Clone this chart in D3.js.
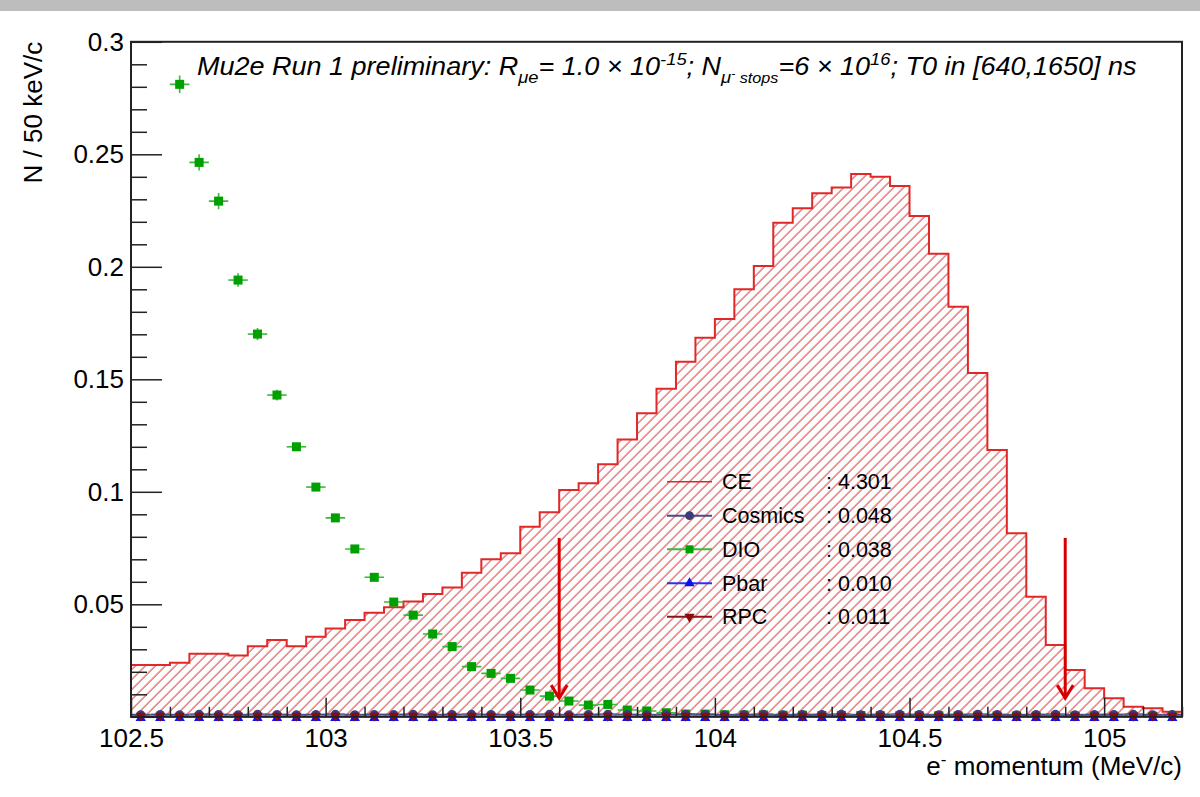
<!DOCTYPE html>
<html><head><meta charset="utf-8">
<script src="https://cdn.jsdelivr.net/npm/d3@7"></script>
<style>
html,body{margin:0;padding:0;background:#fff;}
svg text{font-family:"Liberation Sans",Arial,Helvetica,sans-serif;}
</style></head>
<body><svg id="chart" width="1200" height="797"></svg>
<script>
// ---------------- data ----------------
const xDomain = [102.5, 105.2];
const yDomain = [0, 0.3];
const binWidth = 0.05;
// CE signal histogram, N / 50 keV/c, 54 bins from 102.5 to 105.2 MeV/c
const ceValues = [0.0230,0.0230,0.0240,0.0280,0.0280,0.0273,0.0314,0.0341,0.0314,0.0356,
  0.0393,0.0430,0.0463,0.0487,0.0512,0.0546,0.0575,0.0640,0.0700,0.0727,
  0.0845,0.0909,0.1008,0.1038,0.1122,0.1233,0.1349,0.1458,0.1578,0.1685,
  0.1768,0.1900,0.2004,0.2196,0.2260,0.2327,0.2353,0.2412,0.2400,0.2359,
  0.2226,0.2058,0.1822,0.1528,0.1186,0.0816,0.0534,0.0319,0.0208,0.0127,
  0.0082,0.0045,0.0038,0.0023];
// DIO background (first two bins are above the plotted range)
const dioValues = [null,null,0.2811,0.2464,0.2292,0.1941,0.1701,0.1430,0.1200,0.1021,
  0.0884,0.0746,0.0620,0.0510,0.0452,0.0368,0.0312,0.0223,0.0193,0.0171,
  0.0119,0.0092,0.0070,0.0052,0.0055,0.0030,0.0026,0.0018,0.0012,0.0012,
  0.0009,0.0008,0.0008,0.0007,0.0007,0.0006,0.0006,0.0006,0.0005,0.0005,
  0.0005,0.0005,0.0004,0.0004,0.0004,0.0004,0.0003,0.0003,0.0003,0.0003,
  0.0002,0.0002,0.0002,0.0002];
const dioErrors = [null,null,0.0039,0.0036,0.0036,0.0030,0.0027,0.0024,0.0018,0.0016,
  0.0015,0.0013,0.0012,0.0010,0.0010,0.0009,0.0008,0.0007,0.0006,0.0006,
  0.0005,0.0004,0.0004,0.0003,0.0003,0.0003,0.0002,0.0002,0.0002,0.0002,
  0.0001,0.0001,0.0001,0.0001,0.0001,0.0001,0.0001,0.0001,0.0001,0.0001,
  0.0001,0.0001,0.0001,0.0001,0.0001,0.0001,0.0001,0.0001,0.0001,0.0001,
  0.0001,0.0001,0.0001,0.0001];
const cosmicsValues = [0.0010,0.0011,0.0010,0.0012,0.0011,0.0010,0.0012,0.0011,0.0010,0.0011,
  0.0012,0.0010,0.0011,0.0011,0.0012,0.0010,0.0011,0.0012,0.0011,0.0010,
  0.0011,0.0012,0.0010,0.0011,0.0012,0.0011,0.0010,0.0011,0.0012,0.0011,
  0.0010,0.0011,0.0012,0.0010,0.0011,0.0011,0.0012,0.0010,0.0011,0.0012,
  0.0011,0.0010,0.0011,0.0012,0.0011,0.0010,0.0011,0.0012,0.0010,0.0011,
  0.0011,0.0012,0.0010,0.0011];
const pbarValues = [0.0001,0.0001,0.0001,0.0001,0.0001,0.0001,0.0001,0.0001,0.0001,0.0001,
  0.0001,0.0001,0.0001,0.0001,0.0001,0.0001,0.0001,0.0001,0.0001,0.0001,
  0.0001,0.0001,0.0001,0.0001,0.0001,0.0001,0.0001,0.0001,0.0001,0.0001,
  0.0001,0.0001,0.0001,0.0001,0.0001,0.0001,0.0001,0.0001,0.0001,0.0001,
  0.0001,0.0001,0.0001,0.0001,0.0001,0.0001,0.0001,0.0001,0.0001,0.0001,
  0.0001,0.0001,0.0001,0.0001];
const rpcValues = [0.0002,0.0002,0.0002,0.0002,0.0002,0.0002,0.0002,0.0002,0.0002,0.0002,
  0.0002,0.0002,0.0002,0.0002,0.0002,0.0002,0.0002,0.0002,0.0002,0.0002,
  0.0002,0.0002,0.0002,0.0002,0.0002,0.0002,0.0002,0.0002,0.0002,0.0002,
  0.0002,0.0002,0.0002,0.0002,0.0002,0.0002,0.0002,0.0002,0.0002,0.0002,
  0.0002,0.0002,0.0002,0.0002,0.0002,0.0002,0.0002,0.0002,0.0002,0.0002,
  0.0002,0.0002,0.0002,0.0002];
// signal window arrows
const arrowMomenta = [103.6, 104.9];
const arrowTop = 0.0795;
const arrowTip = 0.0083;
// ticks
const xMajorTicks = [102.5, 103, 103.5, 104, 104.5, 105];
const xTickLabels = ["102.5", "103", "103.5", "104", "104.5", "105"];
const yMajorTicks = [0, 0.05, 0.1, 0.15, 0.2, 0.25, 0.3];
const yTickLabels = ["", "0.05", "0.1", "0.15", "0.2", "0.25", "0.3"];
// legend
const legendNames = ["CE", "Cosmics", "DIO", "Pbar", "RPC"];
const legendTotals = [": 4.301", ": 0.048", ": 0.038", ": 0.010", ": 0.011"];

// ---------------- styles ----------------
const C = {ce:"#e02828", hatch:"#e23c3c", cos:"#3c3c78", cosLine:"#4a4a88", dio:"#00a000", dioLine:"#3cb83c",
           pbar:"#1010e8", pbarLine:"#3030f0", rpc:"#8c0c0c", rpcLine:"#8c1414", arrow:"#d60000"};
const L = {left:131, right:1182, top:41.8, bottom:716.8};

const svg = d3.select("#chart");
svg.append("rect").attr("x",0).attr("y",0).attr("width",1200).attr("height",11).attr("fill","#bdbdbd");

const x = d3.scaleLinear().domain(xDomain).range([L.left, L.right]);
const y = d3.scaleLinear().domain(yDomain).range([L.bottom, L.top]);
const nBins = ceValues.length;
const binLo = d3.range(nBins).map(i => xDomain[0] + i*binWidth);
const binCenter = binLo.map(v => v + binWidth/2);

const defs = svg.append("defs");
const pat = defs.append("pattern").attr("id","hatch").attr("patternUnits","userSpaceOnUse")
  .attr("width",7.07).attr("height",7.07).attr("patternTransform","rotate(45)");
pat.append("line").attr("x1",1).attr("y1",-1).attr("x2",1).attr("y2",9).attr("stroke",C.hatch).attr("stroke-width",1.05);
defs.append("clipPath").attr("id","plotclip").append("rect")
  .attr("x",L.left).attr("y",L.top).attr("width",L.right-L.left).attr("height",L.bottom-L.top);

// CE histogram
const pts = [[x(binLo[0]), y(0)]];
ceValues.forEach((v,i)=>{ pts.push([x(binLo[i]), y(v)]); pts.push([x(binLo[i]+binWidth), y(v)]); });
pts.push([x(binLo[nBins-1]+binWidth), y(0)]);
const g = svg.append("g");
g.append("path").attr("d", d3.line()(pts)+"Z").attr("fill","url(#hatch)").attr("stroke","none");
g.append("path").attr("d", d3.line()(pts.slice(1,-1))).attr("fill","none").attr("stroke",C.ce).attr("stroke-width",2);

// DIO points with error bars
const dioG = svg.append("g").attr("clip-path","url(#plotclip)");
dioValues.forEach((v,i)=>{
  if(v===null) return;
  const cx = x(binCenter[i]), cy = y(v);
  dioG.append("line").attr("x1",x(binLo[i])).attr("x2",x(binLo[i]+binWidth)).attr("y1",cy).attr("y2",cy)
    .attr("stroke",C.dioLine).attr("stroke-width",1.6);
  dioG.append("line").attr("x1",cx).attr("x2",cx).attr("y1",y(v+dioErrors[i])).attr("y2",y(v-dioErrors[i]))
    .attr("stroke",C.dioLine).attr("stroke-width",1.6);
  dioG.append("rect").attr("x",cx-4.5).attr("y",cy-4.5).attr("width",9).attr("height",9).attr("fill",C.dio);
});

// small backgrounds
function errLine(vals, color){
  const gg = svg.append("g");
  vals.forEach((v,i)=>{
    gg.append("line").attr("x1",x(binLo[i])).attr("x2",x(binLo[i]+binWidth)).attr("y1",y(v)).attr("y2",y(v))
      .attr("stroke",color).attr("stroke-width",1.5);
  });
  return gg;
}
const circ = d3.symbol().type(d3.symbolCircle).size(60);
const triUp = d3.symbol().type(d3.symbolTriangle).size(46);
const cg = errLine(cosmicsValues, C.cosLine);
cosmicsValues.forEach((v,i)=>{ cg.append("path").attr("d",circ()).attr("transform",`translate(${x(binCenter[i])},${y(v)})`).attr("fill",C.cos); });
const pg = errLine(pbarValues, C.pbarLine);
pbarValues.forEach((v,i)=>{ pg.append("path").attr("d",triUp()).attr("transform",`translate(${x(binCenter[i])},${y(v)+1.5})`).attr("fill",C.pbar); });
const rg = errLine(rpcValues, C.rpcLine);
rpcValues.forEach((v,i)=>{ rg.append("path").attr("d",triUp()).attr("transform",`translate(${x(binCenter[i])},${y(v)-0.5}) rotate(180)`).attr("fill",C.rpc); });

// arrows
arrowMomenta.forEach(m=>{
  const ax = x(m);
  svg.append("line").attr("x1",ax).attr("x2",ax).attr("y1",y(arrowTop)).attr("y2",y(arrowTip))
    .attr("stroke",C.arrow).attr("stroke-width",3);
  svg.append("path").attr("d",`M${ax-8},${y(arrowTip)-13} L${ax},${y(arrowTip)} L${ax+8},${y(arrowTip)-13}`)
    .attr("fill","none").attr("stroke",C.arrow).attr("stroke-width",3);
});

// axes
const ax = svg.append("g");
const xMinor = d3.range(102.6, 105.2, 0.1).map(v=>+v.toFixed(2)).filter(v=>!xMajorTicks.some(t=>Math.abs(t-v)<1e-6));
const yMinor = d3.range(0.01, 0.3, 0.01).map(v=>+v.toFixed(3)).filter(v=>!yMajorTicks.some(t=>Math.abs(t-v)<1e-6));
const xAxis = d3.axisBottom(x).tickValues(xMajorTicks).tickFormat((d,i)=>xTickLabels[i]).tickSizeInner(-19).tickSizeOuter(0).tickPadding(12);
const xAxisMinor = d3.axisBottom(x).tickValues(xMinor).tickFormat("").tickSizeInner(-10).tickSizeOuter(0);
const yAxis = d3.axisLeft(y).tickValues(yMajorTicks).tickFormat((d,i)=>yTickLabels[i]).tickSizeInner(-31).tickSizeOuter(0).tickPadding(7);
const yAxisMinor = d3.axisLeft(y).tickValues(yMinor).tickFormat("").tickSizeInner(-16).tickSizeOuter(0);
[ [xAxis,`translate(0,${L.bottom})`], [xAxisMinor,`translate(0,${L.bottom})`],
  [yAxis,`translate(${L.left},0)`], [yAxisMinor,`translate(${L.left},0)`] ].forEach(([a,t])=>{
  const gg = ax.append("g").attr("transform",t).call(a);
  gg.select(".domain").remove();
  gg.selectAll(".tick line").attr("stroke","#222").attr("stroke-width",1.5);
  gg.selectAll("text").attr("font-size",26).attr("fill","#000").attr("font-family","Liberation Sans, Arial, sans-serif");
});
// frame
svg.append("rect").attr("x",L.left).attr("y",L.top).attr("width",L.right-L.left).attr("height",L.bottom-L.top)
  .attr("fill","none").attr("stroke","#222").attr("stroke-width",2);

// axis titles
svg.append("text").attr("transform",`translate(42,${L.top}) rotate(-90)`).attr("text-anchor","end")
  .attr("font-size",26).text("N / 50 keV/c");
const xt = svg.append("text").attr("x",L.right).attr("y",775).attr("text-anchor","end").attr("font-size",26);
xt.append("tspan").text("e");
xt.append("tspan").attr("dy",-10).attr("font-size",17).text("-");
xt.append("tspan").attr("dy",10).text(" momentum (MeV/c)");

// title
const tt = svg.append("text").attr("x",0).attr("y",0).attr("font-size",25).attr("font-style","italic");
const parts = [
  ["Mu2e Run 1 preliminary: R",0,25],["\u03bce",8,17],["= 1.0 \u00d7 10",-8,25],["-15",-10,17],
  ["; N",10,25],["\u03bc",8,17],["-",-6,11],[" stops",6,15],["=6 \u00d7 10",-8,25],["16",-10,17],
  ["; T0 in [640,1650] ns",10,25]];
parts.forEach(([s,dy,fs])=>{ tt.append("tspan").attr("dy",dy).attr("font-size",fs).text(s); });
const tw = tt.node().getComputedTextLength();
tt.attr("transform",`translate(197,75) scale(${940/tw},1)`);

// legend
const legY = [481.7, 515.7, 549.3, 583.3, 616.7];
const legColors = [C.ce, C.cosLine, C.dioLine, C.pbarLine, C.rpcLine];
legendNames.forEach((n,i)=>{
  const ly = legY[i];
  svg.append("line").attr("x1",667).attr("x2",712).attr("y1",ly).attr("y2",ly).attr("stroke",legColors[i]).attr("stroke-width",i===0?1.6:2);
  if(i===1) svg.append("path").attr("d",circ()).attr("transform",`translate(689.5,${ly})`).attr("fill",C.cos);
  if(i===2) svg.append("rect").attr("x",685.5).attr("y",ly-4).attr("width",8).attr("height",8).attr("fill",C.dio);
  if(i===3) svg.append("path").attr("d",triUp()).attr("transform",`translate(689.5,${ly})`).attr("fill",C.pbar);
  if(i===4) svg.append("path").attr("d",triUp()).attr("transform",`translate(689.5,${ly}) rotate(180)`).attr("fill",C.rpc);
  svg.append("text").attr("x",722).attr("y",ly).attr("dy","0.36em").attr("font-size",21.5).text(n);
  svg.append("text").attr("x",826).attr("y",ly).attr("dy","0.36em").attr("font-size",21.5).text(legendTotals[i]);
});
</script></body></html>
